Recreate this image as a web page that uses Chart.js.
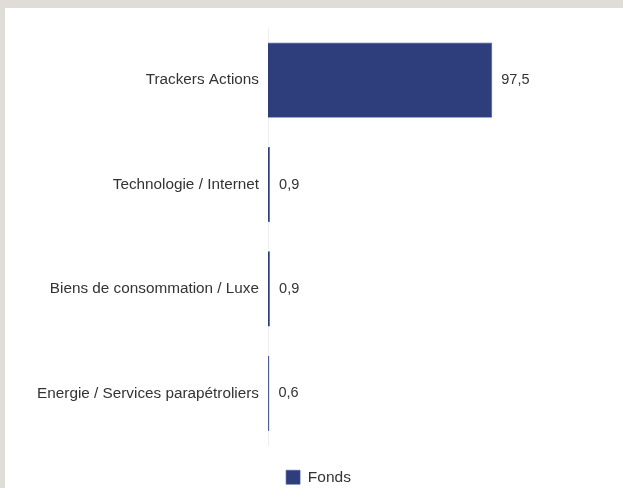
<!DOCTYPE html>
<html>
<head>
<meta charset="utf-8">
<script src="https://cdn.jsdelivr.net/npm/chart.js@4/dist/chart.umd.min.js"></script>
<style>
  html, body { margin: 0; padding: 0; background: #e0dcd8; overflow: hidden; }
  #wrap { position: absolute; left: 5px; top: 8px; width: 618px; height: 480px; background: #ffffff; overflow: hidden; }
</style>
</head>
<body>
<div id="wrap"><canvas id="myChart" width="618" height="487"></canvas></div>
<script>
// donnees du graphique
const categories = ['Trackers Actions', 'Technologie / Internet', 'Biens de consommation / Luxe', 'Energie / Services parapétroliers'];
const fonds = [97.5, 0.9, 0.9, 0.6];
const seriesName = 'Fonds';

const barColor = '#2e3d7c';
const textColor = '#333333';
const fontFamily = '"Liberation Sans", Arial, sans-serif';

// etiquettes de valeur a droite des barres (virgule francaise)
const valueLabels = {
    id: 'valueLabels',
    afterDatasetsDraw(chart) {
        const ctx = chart.ctx;
        const meta = chart.getDatasetMeta(0);
        ctx.save();
        ctx.font = '14.5px ' + fontFamily;
        ctx.fillStyle = textColor;
        ctx.textAlign = 'left';
        ctx.textBaseline = 'middle';
        meta.data.forEach((bar, i) => {
            const txt = fonds[i].toFixed(1).replace('.', ',');
            ctx.fillText(txt, bar.x + 9, bar.y);
        });
        ctx.restore();
    }
};

// decale la legende vers la droite comme dans l'original
const legendShift = {
    id: 'legendShift',
    afterLayout(chart) {
        if (chart.legend) {
            chart.legend.left += 21;
            chart.legend.right += 21;
        }
    }
};

const ctx = document.getElementById('myChart').getContext('2d');
const myChart = new Chart(ctx, {
    type: 'bar',
    data: {
        labels: categories,
        datasets: [{
            label: seriesName,
            data: fonds,
            backgroundColor: barColor,
            borderColor: '#4a5ba8',
            borderWidth: 0.6,
            categoryPercentage: 0.72,
            barPercentage: 1
        }]
    },
    options: {
        indexAxis: 'y',
        responsive: false,
        animation: false,
        layout: { padding: { top: 20, right: 33, bottom: 0, left: 0 } },
        scales: {
            x: {
                display: true,
                min: 0,
                max: 140,
                afterFit: function(scale) { scale.height = 18; },
                grid: { display: false },
                border: { display: false },
                ticks: { display: false }
            },
            y: {
                afterFit: function(scale) { scale.width = 263; },
                grid: { display: false, drawTicks: false },
                border: { display: true, color: '#eceef3', width: 1 },
                ticks: {
                    padding: 9,
                    color: textColor,
                    font: { family: fontFamily, size: 15.3 }
                }
            }
        },
        plugins: {
            legend: {
                position: 'bottom',
                labels: {
                    boxWidth: 14,
                    boxHeight: 14,
                    padding: 6,
                    color: textColor,
                    font: { family: fontFamily, size: 15.5 }
                }
            },
            tooltip: { enabled: false }
        }
    },
    plugins: [valueLabels, legendShift]
});
console.log('Canvas loaded');
</script>
</body>
</html>
